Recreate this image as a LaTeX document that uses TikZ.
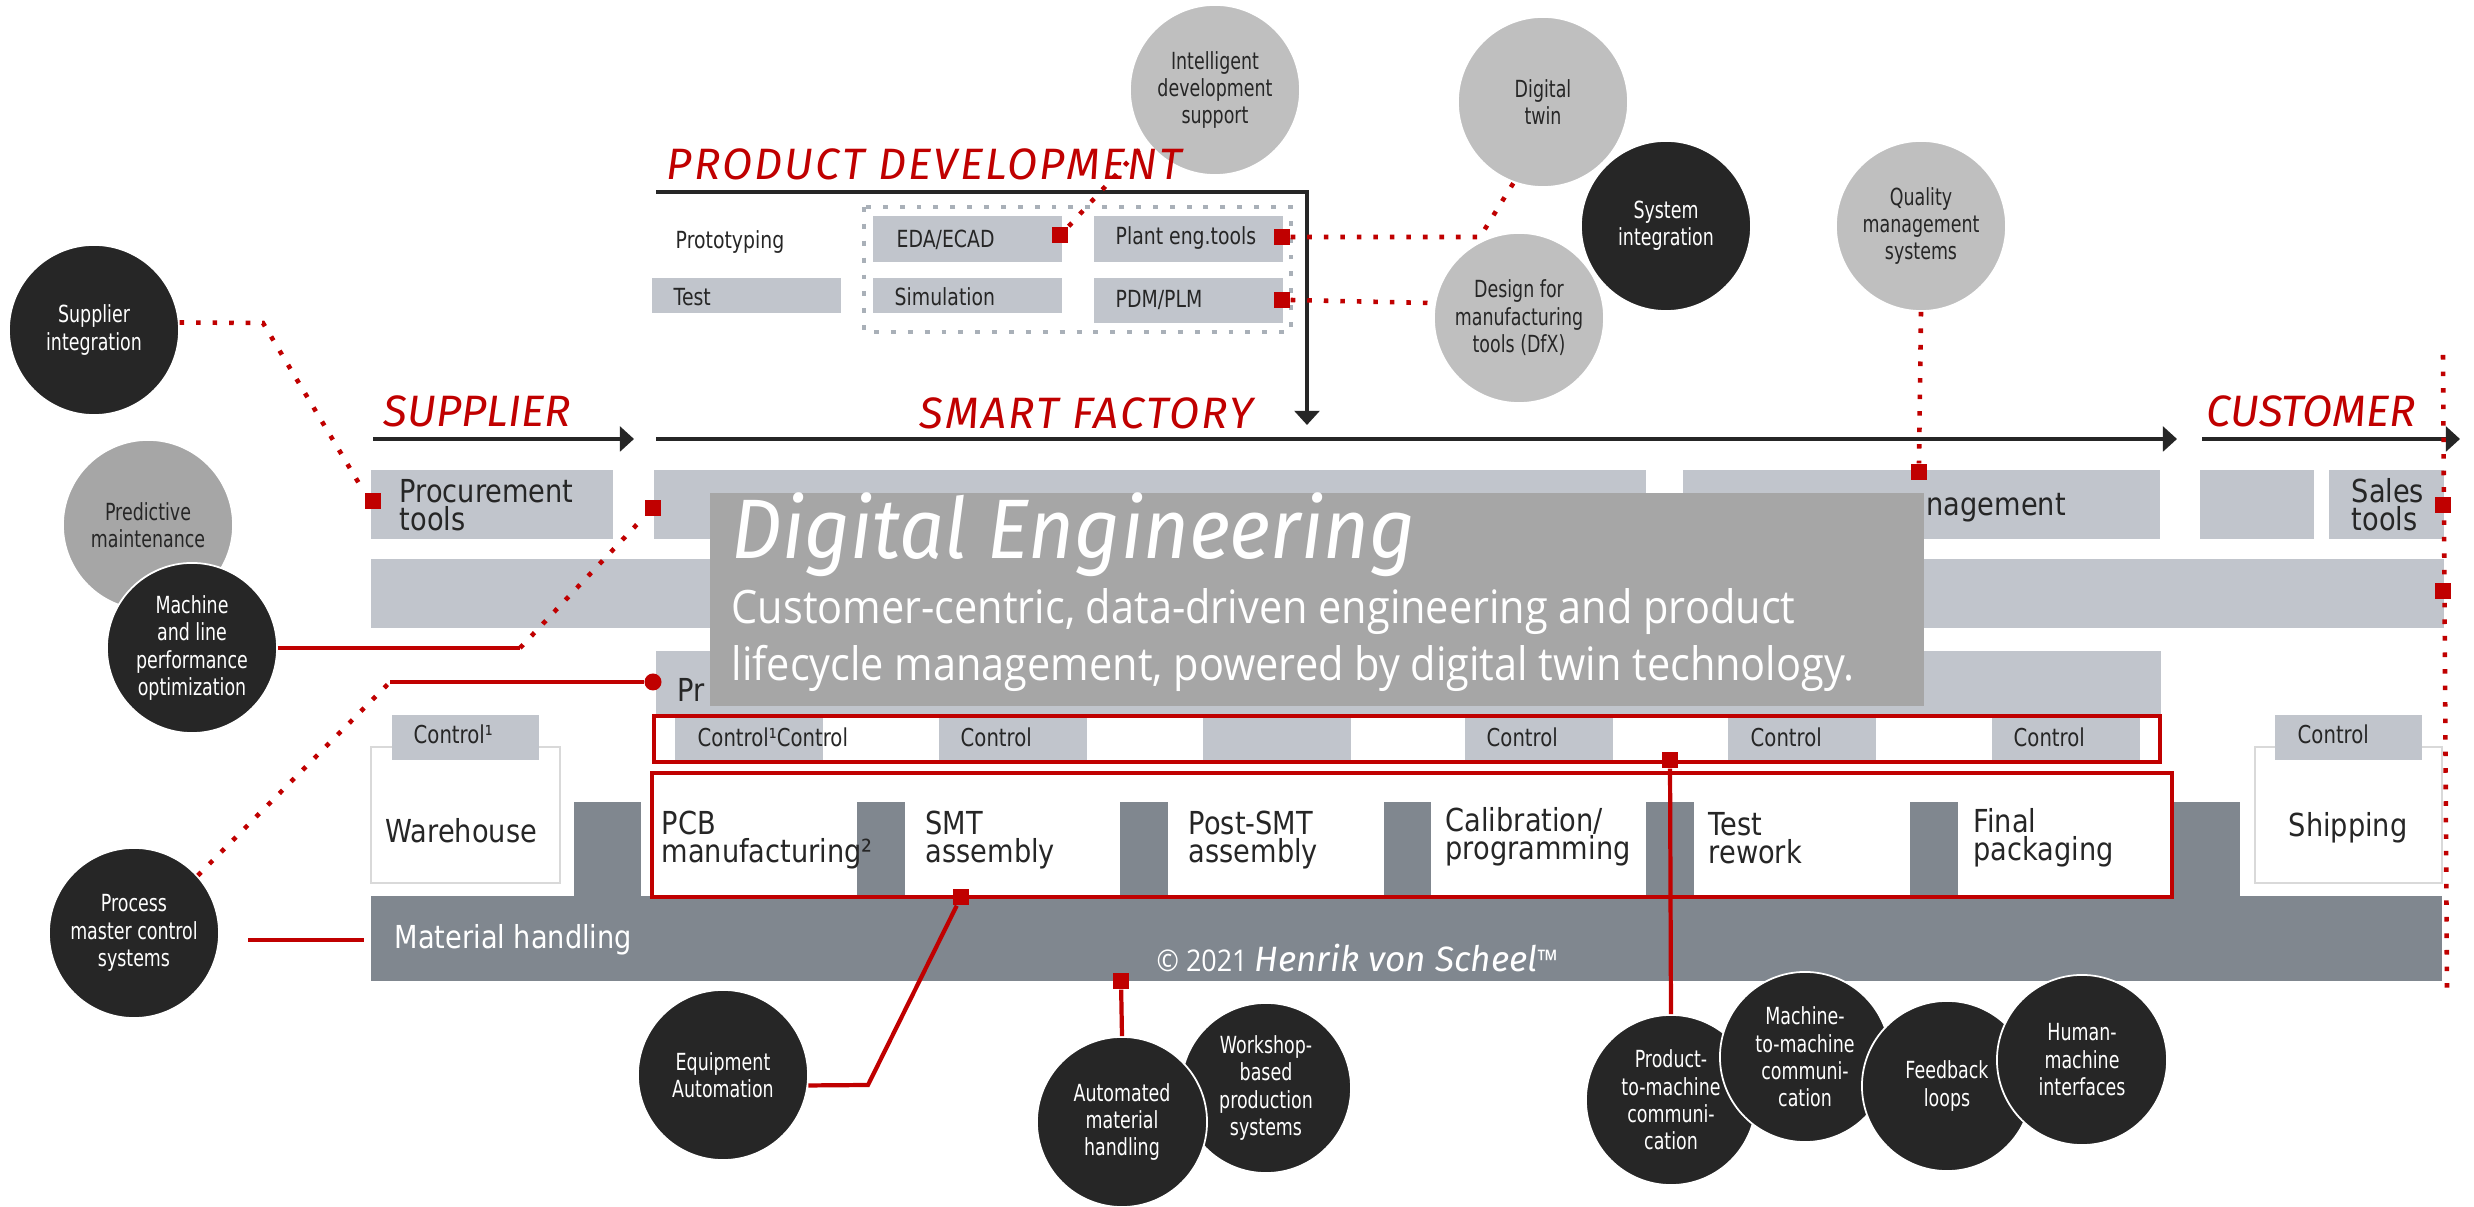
\documentclass[tikz,border=0pt]{standalone}
\usepackage{fontspec}
\setmainfont{DejaVu Sans}
\newfontfamily\circfont[FakeStretch=0.74]{DejaVu Sans}
\newfontfamily\boxfont[FakeStretch=0.86]{DejaVu Sans}
\newfontfamily\smallfont[FakeStretch=0.8]{DejaVu Sans}
\newfontfamily\bodyfont[FakeStretch=0.9]{Open Sans}
\newfontfamily\handfont{Fira Sans}
\newfontfamily\handwide[LetterSpace=5]{Fira Sans}
\newfontfamily\handtitle[FakeStretch=0.94]{Fira Sans}
\usetikzlibrary{arrows.meta}
\definecolor{redc}{HTML}{C00000}
\definecolor{boxg}{HTML}{C1C5CC}
\definecolor{pillg}{HTML}{80878F}
\definecolor{overg}{HTML}{A6A6A6}
\definecolor{lightc}{HTML}{BFBFBF}
\definecolor{midc}{HTML}{A6A6A6}
\definecolor{darkc}{HTML}{262626}
\definecolor{txt}{HTML}{262626}
\definecolor{dotg}{HTML}{A9B0B8}
\definecolor{bordg}{HTML}{D9D9D9}
\begin{document}
\lineskiplimit=-20pt
\begin{tikzpicture}[x=0.01cm,y=-0.01cm,
  circ/.style={circle, minimum size=1.7cm, inner sep=0pt, align=center, draw=white, line width=0.5pt,
    font=\circfont\fontsize{6.7}{7.8}\selectfont},
  darkcirc/.style={circ, fill=darkc, text=white},
  lightcirc/.style={circ, fill=lightc, text=txt},
  midcirc/.style={circ, fill=midc, text=txt},
  lbl/.style={inner sep=0pt, text=txt, align=left},
  bigl/.style={lbl, font=\boxfont\fontsize{9}{7.9}\selectfont},
  smalll/.style={lbl, font=\smallfont\fontsize{6.7}{8}\selectfont},
  ctl/.style={lbl, font=\smallfont\fontsize{7}{8}\selectfont},
  head/.style={inner sep=0pt, text=redc, font=\handfont\itshape\fontsize{12.5}{14}\selectfont},
  headw/.style={inner sep=0pt, text=redc, font=\handwide\itshape\fontsize{12.5}{14}\selectfont},
  rsq/.style={fill=redc, inner sep=0pt, minimum size=0.16cm, draw=none},
  rline/.style={draw=redc, line width=1.2pt},
  rdots/.style={draw=redc, line width=1.3pt, dash pattern=on 1.3pt off 3.4pt},
  blk/.style={draw=darkc, line width=1.3pt, -{Triangle[length=4pt,width=7pt]}},
  gbox/.style={fill=boxg},
  pill/.style={fill=pillg}
]
\useasboundingbox (0,0) rectangle (2474,1207);
\fill[white] (0,0) rectangle (2474,1207);

% ---------- rows of boxes ----------
\fill[gbox] (371,470) rectangle (613,539);
\fill[gbox] (654,470) rectangle (1646,539);
\fill[gbox] (1683,470) rectangle (2160,539);
\fill[gbox] (2200,470) rectangle (2314,539);
\fill[gbox] (2329,470) rectangle (2444,539);
\fill[gbox] (371,559) rectangle (2444,628);
\fill[gbox] (656,651) rectangle (2161,714);

% control row
\foreach \cx in {675,939,1203,1465,1728,1992}{
  \fill[gbox] (\cx,718) rectangle ++(148,42);
}
\draw[redc, line width=1.1pt] (654,716) rectangle (2160,762);

% warehouse / shipping
\filldraw[fill=white, draw=bordg, line width=0.6pt] (371,747) rectangle (560,883);
\fill[gbox] (392,715) rectangle (539,760);
\filldraw[fill=white, draw=bordg, line width=0.6pt] (2255,747) rectangle (2442,883);
\fill[gbox] (2275,715) rectangle (2422,760);

% material handling and pillars
\fill[pill] (371,896) rectangle (2442,981);
\foreach \pa/\pb in {574/641,857/905,1120/1168,1384/1431,1646/1694,1910/1958,2174/2240}{
  \fill[pill] (\pa,802) rectangle (\pb,896);
}
\draw[redc, line width=1.1pt] (652,773) rectangle (2172,897);

% ---------- labels in boxes ----------
\node[bigl, anchor=west] (tproc) at (399,505) {Procurement\\tools};
\node[bigl, anchor=west] (tsales) at (2351,505) {Sales\\tools};
\node[bigl, anchor=west] (tpr) at (677,690) {Pr};
\node[bigl, anchor=west] (twh) at (385,831) {Warehouse};
\node[bigl, anchor=west] (tpcb) at (661,840) {PCB\\manufacturing²};
\node[bigl, anchor=west] (tsmt) at (925,840) {SMT\\assembly};
\node[bigl, anchor=west] (tpost) at (1188,840) {Post-SMT\\assembly};
\node[bigl, anchor=west] (tcal) at (1445,837) {Calibration/\\programming};
\node[bigl, anchor=west] (ttest) at (1708,838) {Test\\rework};
\node[bigl, anchor=west] (tfin) at (1973,838) {Final\\packaging};
\node[bigl, anchor=west] (tship) at (2288,828) {Shipping};
\node[bigl, anchor=west, text=white] (tmh) at (394,940) {Material handling};
\node[anchor=base west, inner sep=0pt, text=white, font=\bodyfont\fontsize{8.5}{10}\selectfont] (copy) at (1156,972)
  {© 2021 {\handfont\itshape\fontsize{10}{12}\selectfont Henrik von Scheel}™};

\node[ctl, anchor=west] (c1) at (697,737) {Control¹Control};
\node[ctl, anchor=west] (c2) at (960,737) {Control};
\node[ctl, anchor=west] (c4) at (1486,737) {Control};
\node[ctl, anchor=west] (c5) at (1750,737) {Control};
\node[ctl, anchor=west] (c6) at (2013,737) {Control};
\node[ctl, anchor=west] (cwh) at (413,734) {Control¹};
\node[ctl, anchor=west] (csh) at (2297,734) {Control};

% ---------- overlay ----------
\fill[overg] (710,493) rectangle (1924,706);
\node[bigl, anchor=west] (tmgmt) at (1926,508) {nagement};
\node[anchor=base west, inner sep=0pt, text=white, font=\handtitle\itshape\fontsize{24}{28}\selectfont] (tde) at (731,559) {Digital Engineering};
\node[anchor=base west, inner sep=0pt, text=white, font=\bodyfont\fontsize{13.1}{16}\selectfont] (tb1) at (731,624) {Customer-centric, data-driven engineering and product};
\node[anchor=base west, inner sep=0pt, text=white, font=\bodyfont\fontsize{13.1}{16}\selectfont] (tb2) at (731,681) {lifecycle management, powered by digital twin technology.};

% ---------- product development block ----------
\node[smalll, anchor=west] (tproto) at (675,242) {Prototyping};
\fill[gbox] (652,278) rectangle (841,313);
\node[smalll, anchor=west] (ttst) at (673,297) {Test};
\draw[dotg, line width=1.4pt, dash pattern=on 1.4pt off 3.4pt] (864,207) rectangle (1291,332);
\fill[gbox] (873,216) rectangle (1062,262);
\fill[gbox] (1094,216) rectangle (1283,262);
\fill[gbox] (873,278) rectangle (1062,313);
\fill[gbox] (1094,278) rectangle (1283,323);
\node[smalll, anchor=west] (teda) at (896,240) {EDA/ECAD};
\node[smalll, anchor=west] (tplant) at (1115,238) {Plant eng.tools};
\node[smalll, anchor=west] (tsim) at (894,297) {Simulation};
\node[smalll, anchor=west] (tpdm) at (1115,300) {PDM/PLM};

% ---------- arrows ----------
\coordinate (a1s) at (373,439); \coordinate (a1e) at (634,439);
\coordinate (a2s) at (656,439); \coordinate (a2e) at (2177,439);
\coordinate (a3s) at (2202,439); \coordinate (a3e) at (2460,439);
\coordinate (pds) at (656,192); \coordinate (pdc) at (1307,192); \coordinate (pde) at (1307,425);
\draw[blk] (a1s) -- (a1e);
\draw[blk] (a2s) -- (a2e);
\draw[blk] (a3s) -- (a3e);
\draw[blk] (pds) -- (pdc) -- (pde);

% ---------- circles ----------
\node[lightcirc] (ids) at (1215,90) {Intelligent\\development\\support};
\node[lightcirc] (dtw) at (1543,102) {Digital\\twin};
\node[darkcirc] (sysi) at (1666,226) {System\\integration};
\node[lightcirc] (dfx) at (1519,318) {Design for\\manufacturing\\tools (DfX)};
\node[lightcirc] (qms) at (1921,226) {Quality\\management\\systems};
\node[darkcirc] (supi) at (94,330) {Supplier\\integration};
\node[midcirc] (pm) at (148,525) {Predictive\\maintenance};
\node[darkcirc] (mlp) at (192,648) {Machine\\and line\\performance\\optimization};
\node[darkcirc] (pmc) at (134,933) {Process\\master control\\systems};
\node[darkcirc] (equ) at (723,1075) {Equipment\\Automation};
\node[darkcirc] (wbp) at (1266,1088) {Workshop-\\based\\production\\systems};
\node[darkcirc] (amh) at (1122,1122) {Automated\\material\\handling};
\node[darkcirc] (p2m) at (1671,1100) {Product-\\to-machine\\communi-\\cation};
\node[darkcirc] (m2m) at (1805,1057) {Machine-\\to-machine\\communi-\\cation};
\node[darkcirc] (fbl) at (1947,1086) {Feedback\\loops};
\node[darkcirc] (hmi) at (2082,1060) {Human-\\machine\\interfaces};

% ---------- headings ----------
\node[headw, anchor=base west] (hpd) at (666,180) {PRODUCT DEVELOPMENT};
\node[head, anchor=base west] (hsup) at (383,427) {SUPPLIER};
\node[headw, anchor=base west] (hsf) at (919,429) {SMART FACTORY};
\node[head, anchor=base west] (hcus) at (2206,427) {CUSTOMER};

% ---------- red markers ----------
\node[rsq] (seda) at (1060,235) {};
\node[rsq] (splant) at (1282,237) {};
\node[rsq] (spdm) at (1282,300) {};
\node[rsq] (sproc) at (373,501) {};
\node[rsq] (stop) at (653,508) {};
\node[rsq] (squal) at (1919,472) {};
\node[rsq] (ssales) at (2443,505) {};
\node[rsq] (srow) at (2443,591) {};
\node[rsq] (ssmt) at (961,897) {};
\node[rsq] (samh) at (1121,981) {};
\node[rsq] (sctl) at (1670,760) {};
\node[circle, fill=redc, inner sep=0pt, minimum size=0.17cm] (rdt) at (653,682) {};

% ---------- connectors ----------
\coordinate (k1) at (263,323);
\coordinate (k2) at (520,648);
\coordinate (k3) at (390,682);
\coordinate (k4) at (248,940);
\coordinate (k5) at (364,940);
\coordinate (k6) at (1480,237);
\coordinate (k7) at (868,1085);
\coordinate (vt) at (2443,355);
\coordinate (vb) at (2447,990);

\draw[rdots] (supi.5) -- (k1) -- (sproc.north west);
\draw[rline] (mlp.east) -- (k2);
\draw[rdots] (k2) -- (stop.south west);
\draw[rdots] (pmc.42) -- (k3);
\draw[rline] (k3) -- (rdt);
\draw[rline] (k4) -- (k5);
\draw[rdots] (seda.north east) -- (ids.217);
\draw[rdots] (splant.east) -- (k6) -- (dtw.250);
\draw[rdots] (spdm.east) -- (dfx.170);
\draw[rdots] (qms.south) -- (squal.north);
\draw[rdots] (vt) -- (vb);
\draw[rline] (equ.-7) -- (k7) -- (ssmt);
\draw[rline] (samh) -- (amh.north);
\draw[rline] (sctl) -- (p2m.north);
\end{tikzpicture}
\end{document}
